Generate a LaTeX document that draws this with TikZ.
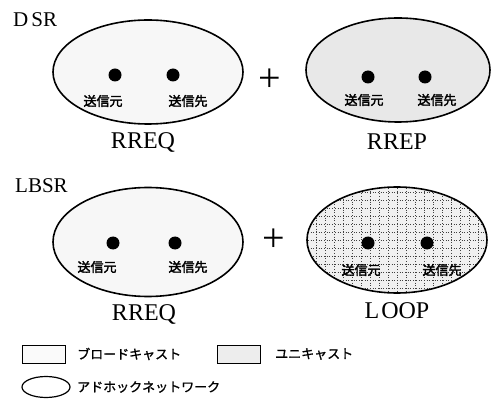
\documentclass[tikz,border=0pt]{standalone}
\usepackage{fontspec}
\setmainfont{Liberation Serif}
\newfontfamily\cjk{Noto Sans CJK JP}[FakeBold=1.2]
\newfontfamily\cjkb{Noto Sans CJK JP}[FakeBold=2.5]
\usetikzlibrary{shapes.geometric}
\begin{document}
\begin{tikzpicture}[x=1pt,y=-1pt,
  net/.style={ellipse, draw, line width=1.6pt, inner sep=0pt},
  bc/.style={net, fill=black!3},
  uc/.style={net, fill=black!9},
  dotn/.style={circle, fill=black, inner sep=0pt, minimum size=13pt},
  jlab/.style={font=\cjkb\fontsize{13}{15}\selectfont, inner sep=0pt},
  msg/.style={font=\fontsize{24}{28}\selectfont, anchor=base, inner sep=0pt},
  ttl/.style={font=\fontsize{21}{24}\selectfont, anchor=base west, inner sep=0pt},
  plus/.style={font=\fontsize{40}{40}\selectfont, inner sep=0pt},
  leg/.style={font=\cjk\fontsize{13}{15}\selectfont, anchor=west, inner sep=0pt},
  legbox/.style={draw, line width=0.9pt, minimum width=43pt, minimum height=18pt, inner sep=0pt},
  gridfill/.style={path picture={
    \foreach \i in {-99,-90,...,99}
      \draw[black!75, line width=0.7pt, dotted] ([xshift=\i pt]path picture bounding box.center) ++(0,-60) -- ++(0,120);
    \foreach \j in {-56,-48,...,56}
      \draw[black!75, line width=0.7pt, dotted] ([yshift=\j pt]path picture bounding box.center) ++(-100,0) -- ++(200,0);
  }}]
\useasboundingbox (0,0) rectangle (492,403);

% DSR
\node[ttl] (dsr) at (13,27) {D\kern3pt SR};
\node[bc, minimum width=190pt, minimum height=104pt] (e1) at (148,72) {};
\node[dotn] (s1) at (115,75) {};
\node[dotn] (d1) at (173,75) {};
\node[jlab] (ls1) at (103,101) {送信元};
\node[jlab] (ld1) at (188,101) {送信先};
\node[msg] (m1) at (143,149) {RREQ};
\node[plus] (p1) at (270,80) {+};
\node[uc, minimum width=184pt, minimum height=104pt] (e2) at (398,70) {};
\node[dotn] (s2) at (368,77) {};
\node[dotn] (d2) at (425,77) {};
\node[jlab] (ls2) at (364,100) {送信元};
\node[jlab] (ld2) at (437,100) {送信先};
\node[msg] (m2) at (397,150) {RREP};

% LBSR
\node[ttl] (lbsr) at (15,193) {LBSR};
\node[bc, minimum width=190pt, minimum height=109pt] (e3) at (148,242) {};
\node[dotn] (s3) at (113,243) {};
\node[dotn] (d3) at (175,243) {};
\node[jlab] (ls3) at (97,267) {送信元};
\node[jlab] (ld3) at (188,267) {送信先};
\node[msg] (m3) at (144,320) {RREQ};
\node[plus] (p2) at (274,240) {+};
\node[net, fill=black!6, gridfill, minimum width=180pt, minimum height=106pt] (e4) at (397,240) {};
\node[dotn] (s4) at (368,243) {};
\node[dotn] (d4) at (427,243) {};
\node[jlab] (ls4) at (361,270) {送信元};
\node[jlab] (ld4) at (442,270) {送信先};
\node[msg] (m4) at (397,318) {L\kern2pt OOP};

% legend
\node[legbox, fill=black!2] (b1) at (43.5,354) {};
\node[leg] (t1) at (77,354) {ブロードキャスト};
\node[legbox, fill=black!7] (b2) at (239,354) {};
\node[leg] (t2) at (275,354) {ユニキャスト};
\node[net, line width=1.2pt, minimum width=48pt, minimum height=21pt] (le) at (46,387) {};
\node[leg] (t3) at (77,387) {アドホックネットワーク};
\end{tikzpicture}
\end{document}
